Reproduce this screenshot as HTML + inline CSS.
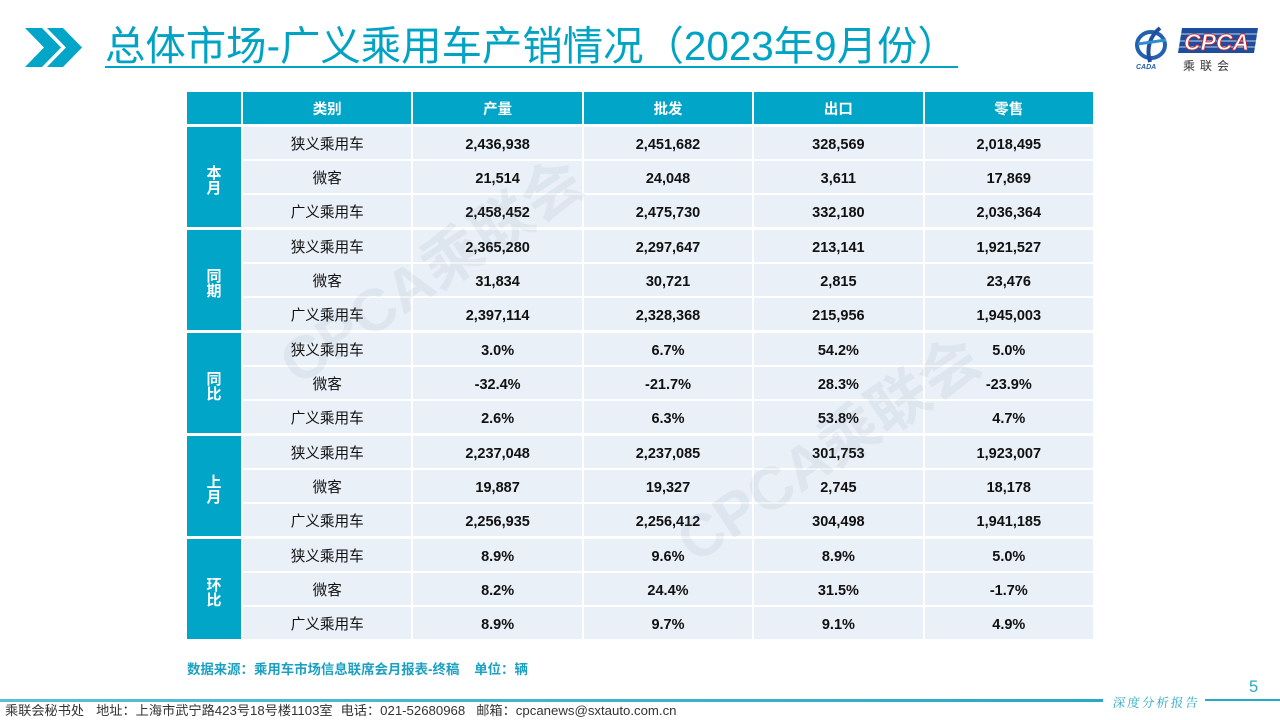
<!DOCTYPE html>
<html>
<head>
<meta charset="utf-8">
<style>
*{margin:0;padding:0;box-sizing:border-box}
html,body{width:1280px;height:720px;background:#fff;overflow:hidden}
body{position:relative;font-family:"Liberation Sans","Noto Sans CJK SC",sans-serif}
.title{position:absolute;left:105px;top:26px;font-size:40.4px;line-height:40px;color:#00A3C4;white-space:nowrap;font-family:"Liberation Sans","Noto Sans CJK SC",sans-serif;font-weight:400}
.uline{position:absolute;left:105px;top:66px;width:853px;height:2px;background:#00A3C4}
.grid{position:absolute;left:187px;width:906px;display:grid;grid-template-columns:54px repeat(5,1fr);column-gap:2px;row-gap:2px}
.hdr{top:92px;grid-template-rows:32px}
.grp{grid-template-rows:repeat(3,32px)}
.c{background:#E9F0F8;display:flex;align-items:center;justify-content:center;color:#111;white-space:nowrap}
.cat{font-size:14.6px;font-family:"Liberation Sans","Noto Sans CJK SC",sans-serif}
.num{font-size:14.5px;font-weight:bold;font-family:"Liberation Sans",sans-serif;padding-top:3px}
.h{background:#00A5C7;color:#fff;font-weight:bold;font-size:14.5px}
.g{grid-row:span 3;background:#00A5C7;color:#fff;font-weight:bold;font-size:15px;line-height:15px;text-align:center;display:flex;flex-direction:column;align-items:center;justify-content:center;padding-top:8px}
.wm{position:absolute;font-family:"Liberation Sans","Noto Sans CJK SC",sans-serif;font-weight:bold;font-size:60px;line-height:60px;color:rgba(110,120,135,0.085);white-space:nowrap;transform:translate(-50%,-50%) rotate(-34deg);z-index:5;pointer-events:none}
.src{position:absolute;left:187px;top:661px;font-size:13.4px;line-height:18px;font-weight:bold;color:#1BA0C2;white-space:nowrap}
.foot{position:absolute;left:5px;top:703px;font-size:13.2px;line-height:16px;color:#333;white-space:nowrap}
.ln1{position:absolute;left:0;top:699px;width:1103px;height:3px;background:linear-gradient(90deg,#5BBFD6,#26A9C8)}
.ln2{position:absolute;left:1205px;top:699px;width:75px;height:2px;background:#26A9C8}
.dep{position:absolute;left:1113px;top:694px;font-size:12.5px;line-height:16px;letter-spacing:2px;color:#2AA8C6;font-family:"Noto Serif CJK SC","Noto Sans CJK SC",serif;transform:skewX(-8deg);white-space:nowrap}
.pg{position:absolute;left:1249px;top:678px;font-size:16.5px;line-height:18px;color:#2AA8C6}
</style>
</head>
<body>
<svg style="position:absolute;left:0;top:0" width="100" height="80">
<polygon points="25,28 42,28 61,47.5 42,67 25,67 44,47.5" fill="#00A5C7"/>
<polygon points="47,28 63,28 82,47.5 63,67 47,67 66,47.5" fill="#00A5C7"/>
</svg>
<div class="title">总体市场-广义乘用车产销情况（2023年9月份）</div>
<div class="uline"></div>

<svg style="position:absolute;left:1128px;top:20px" width="140" height="56" viewBox="1128 20 140 56">
<ellipse cx="1151" cy="45" rx="14" ry="13" fill="none" stroke="#2360B0" stroke-width="4"/>
<path d="M1160 28 C1150 36,1146 48,1150 62" stroke="#1E4F9E" stroke-width="4" fill="none"/>
<path d="M1138 44 L1166 40" stroke="#2E8FD0" stroke-width="3"/>
<text x="1136" y="69" font-family="Liberation Sans" font-size="7" font-style="italic" font-weight="bold" fill="#2360B0">CADA</text>
<polygon points="1182,28 1258,28 1254,53 1178,53" fill="#1D4E9E"/>
<line x1="1181" y1="34" x2="1257" y2="34" stroke="#fff" stroke-width="0.8"/>
<line x1="1180" y1="41" x2="1256" y2="41" stroke="#fff" stroke-width="0.8"/>
<line x1="1179" y1="47" x2="1255" y2="47" stroke="#fff" stroke-width="0.8"/>
<text x="1184" y="50" font-family="Liberation Sans" font-size="23" font-style="italic" font-weight="bold" fill="#fff" stroke="#D22" stroke-width="0.8">CPCA</text>
<text x="1183" y="70" font-family="Noto Sans CJK SC" font-size="12" letter-spacing="5" fill="#333">乘联会</text>
</svg>

<div class="grid hdr">
<div class="c h"></div><div class="c h">类别</div><div class="c h">产量</div><div class="c h">批发</div><div class="c h">出口</div><div class="c h">零售</div>
</div>

<div class="grid grp" style="top:127px">
<div class="g"><span>本</span><span>月</span></div>
<div class="c cat">狭义乘用车</div><div class="c num">2,436,938</div><div class="c num">2,451,682</div><div class="c num">328,569</div><div class="c num">2,018,495</div>
<div class="c cat">微客</div><div class="c num">21,514</div><div class="c num">24,048</div><div class="c num">3,611</div><div class="c num">17,869</div>
<div class="c cat">广义乘用车</div><div class="c num">2,458,452</div><div class="c num">2,475,730</div><div class="c num">332,180</div><div class="c num">2,036,364</div>
</div>

<div class="grid grp" style="top:230px">
<div class="g"><span>同</span><span>期</span></div>
<div class="c cat">狭义乘用车</div><div class="c num">2,365,280</div><div class="c num">2,297,647</div><div class="c num">213,141</div><div class="c num">1,921,527</div>
<div class="c cat">微客</div><div class="c num">31,834</div><div class="c num">30,721</div><div class="c num">2,815</div><div class="c num">23,476</div>
<div class="c cat">广义乘用车</div><div class="c num">2,397,114</div><div class="c num">2,328,368</div><div class="c num">215,956</div><div class="c num">1,945,003</div>
</div>

<div class="grid grp" style="top:333px">
<div class="g"><span>同</span><span>比</span></div>
<div class="c cat">狭义乘用车</div><div class="c num">3.0%</div><div class="c num">6.7%</div><div class="c num">54.2%</div><div class="c num">5.0%</div>
<div class="c cat">微客</div><div class="c num">-32.4%</div><div class="c num">-21.7%</div><div class="c num">28.3%</div><div class="c num">-23.9%</div>
<div class="c cat">广义乘用车</div><div class="c num">2.6%</div><div class="c num">6.3%</div><div class="c num">53.8%</div><div class="c num">4.7%</div>
</div>

<div class="grid grp" style="top:436px">
<div class="g"><span>上</span><span>月</span></div>
<div class="c cat">狭义乘用车</div><div class="c num">2,237,048</div><div class="c num">2,237,085</div><div class="c num">301,753</div><div class="c num">1,923,007</div>
<div class="c cat">微客</div><div class="c num">19,887</div><div class="c num">19,327</div><div class="c num">2,745</div><div class="c num">18,178</div>
<div class="c cat">广义乘用车</div><div class="c num">2,256,935</div><div class="c num">2,256,412</div><div class="c num">304,498</div><div class="c num">1,941,185</div>
</div>

<div class="grid grp" style="top:539px">
<div class="g"><span>环</span><span>比</span></div>
<div class="c cat">狭义乘用车</div><div class="c num">8.9%</div><div class="c num">9.6%</div><div class="c num">8.9%</div><div class="c num">5.0%</div>
<div class="c cat">微客</div><div class="c num">8.2%</div><div class="c num">24.4%</div><div class="c num">31.5%</div><div class="c num">-1.7%</div>
<div class="c cat">广义乘用车</div><div class="c num">8.9%</div><div class="c num">9.7%</div><div class="c num">9.1%</div><div class="c num">4.9%</div>
</div>

<div class="wm" style="left:432px;top:272px">CPCA乘联会</div>
<div class="wm" style="left:829px;top:450px">CPCA乘联会</div>

<div class="src">数据来源：乘用车市场信息联席会月报表-终稿<span style="display:inline-block;width:15px"></span>单位：辆</div>

<div class="ln1"></div>
<div class="ln2"></div>
<div class="dep">深度分析报告</div>
<div class="pg">5</div>
<div class="foot">乘联会秘书处<span style="display:inline-block;width:12px"></span>地址：上海市武宁路423号18号楼1103室<span style="display:inline-block;width:8px"></span>电话：021-52680968<span style="display:inline-block;width:11px"></span>邮箱：cpcanews@sxtauto.com.cn</div>
</body>
</html>
